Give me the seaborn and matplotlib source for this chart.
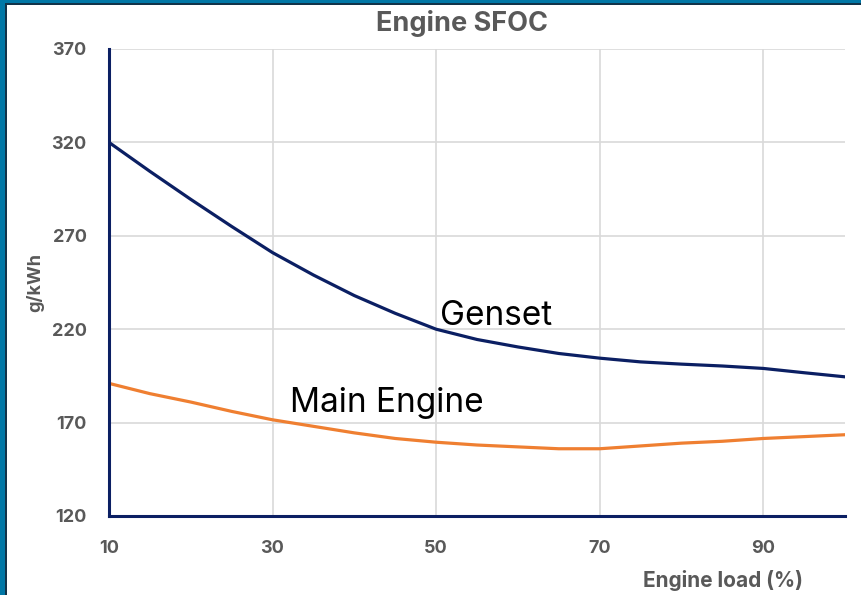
import matplotlib
matplotlib.use("Agg")
import matplotlib.pyplot as plt
from matplotlib.patches import Rectangle
import seaborn as sns
import pandas as pd

# Engine load (%) and specific fuel oil consumption (g/kWh)
load = [10, 15, 20, 25, 30, 35, 40, 45, 50, 55, 60, 65, 70, 75, 80, 85, 90, 95, 100]
genset_sfoc = [320, 304.5, 289.5, 275, 261, 249, 238, 228.5, 220, 214.5, 210.5, 207, 204.5,
               202.5, 201.3, 200.3, 199, 196.7, 194.5]
main_engine_sfoc = [191, 185.5, 181, 176, 171.5, 168, 164.5, 161.5, 159.5, 158, 157, 156,
                    156, 157.5, 159, 160, 161.5, 162.5, 163.5]
x_ticks = [10, 30, 50, 70, 90]
y_ticks = [120, 170, 220, 270, 320, 370]

sns.set_theme(style="white")
plt.rcParams["font.family"] = ["Inter", "DejaVu Sans"]

NAVY = "#0b1f63"
ORANGE = "#ef7f31"
GREY = "#595959"

df = pd.DataFrame({"load": load, "Genset": genset_sfoc, "Main Engine": main_engine_sfoc})

fig = plt.figure(figsize=(8.61, 5.95), dpi=100)
ax = fig.add_axes([109 / 861, 79 / 595, (845 - 109) / 861, (516 - 49) / 595])

sns.lineplot(data=df, x="load", y="Genset", ax=ax, color=NAVY, linewidth=2.3)
sns.lineplot(data=df, x="load", y="Main Engine", ax=ax, color=ORANGE, linewidth=2.3)

ax.set_xlim(10, 100)
ax.set_ylim(120, 370)
ax.set_xticks(x_ticks)
ax.set_yticks(y_ticks)
ax.grid(True, color="#d9d9d9", linewidth=1.2)
ax.set_axisbelow(True)

for side in ("top", "right"):
    ax.spines[side].set_visible(False)
for side in ("left", "bottom"):
    ax.spines[side].set_color(NAVY)
    ax.spines[side].set_linewidth(2.2)
    ax.spines[side].set_zorder(5)

ax.tick_params(axis="both", length=0, labelsize=13, labelcolor=GREY)
ax.tick_params(axis="y", pad=16)
ax.tick_params(axis="x", pad=17)
for lbl in ax.get_xticklabels() + ax.get_yticklabels():
    lbl.set_fontweight("bold")

ax.set_xlabel("")
ax.set_ylabel("")
fig.text(35 / 861, 1 - 283 / 595, "g/kWh", rotation=90, ha="center", va="center",
         fontsize=13, fontweight="bold", color=GREY)
fig.text(803 / 861, 1 - 587 / 595, "Engine load (%)", ha="right", va="baseline",
         fontsize=15, fontweight="bold", color=GREY)
fig.text(462 / 861, 1 - 31 / 595, "Engine SFOC", ha="center", va="baseline",
         fontsize=19.5, fontweight="bold", color=GREY)

# Series labels placed next to their curves
ax.text(50.5, 222.3, "Genset", fontsize=24, color="black", ha="left", va="baseline")
ax.text(32.1, 175.8, "Main Engine", fontsize=24, color="black", ha="left", va="baseline")

# Blue frame along the left and top edges
fig.patches.append(Rectangle((0, 0), 5 / 861, 1, transform=fig.transFigure,
                             facecolor="#0077a6", edgecolor="none", zorder=10))
fig.patches.append(Rectangle((5 / 861, 0), 2 / 861, 1 - 3 / 595, transform=fig.transFigure,
                             facecolor="#123349", edgecolor="none", zorder=10))
fig.patches.append(Rectangle((0, 1 - 3 / 595), 1, 3 / 595, transform=fig.transFigure,
                             facecolor="#0077a6", edgecolor="none", zorder=10))
fig.patches.append(Rectangle((5 / 861, 1 - 5 / 595), 1, 2 / 595, transform=fig.transFigure,
                             facecolor="#123349", edgecolor="none", zorder=10))

fig.savefig("out.png", dpi=100)
